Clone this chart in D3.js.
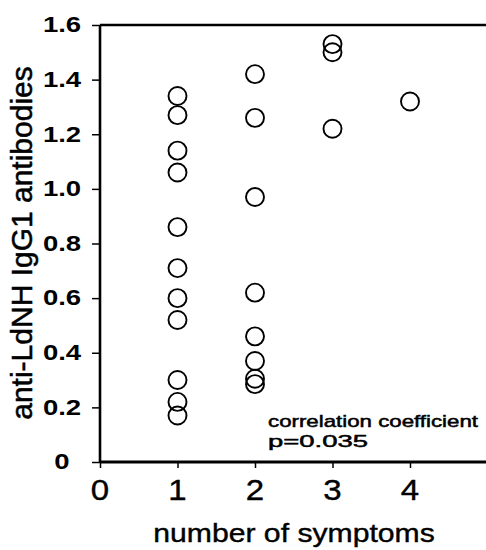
<!DOCTYPE html>
<html>
<head>
<meta charset="utf-8">
<script src="https://cdn.jsdelivr.net/npm/d3@7/dist/d3.min.js"></script>
<style>
  body { margin: 0; background: #fff; }
  text { font-family: "Liberation Sans", Arial, sans-serif; fill: #000; }
</style>
</head>
<body>
<div class="graphic"></div>
<script>
// values
var symptoms = [1, 1, 1, 1, 1, 1, 1, 1, 1, 1, 1,
  2, 2, 2, 2, 2, 2, 2, 2,
  3, 3, 3,
  4];
var igg1 = [1.34, 1.27, 1.14, 1.06, 0.86, 0.71, 0.60, 0.52, 0.30, 0.22, 0.17,
  1.42, 1.26, 0.97, 0.62, 0.46, 0.37, 0.305, 0.285,
  1.53, 1.50, 1.22,
  1.32];

var xTicks = [0, 1, 2, 3, 4];
var yTicks = [0, 0.2, 0.4, 0.6, 0.8, 1.0, 1.2, 1.4, 1.6];
var yTickLabels = ["0", "0.2", "0.4", "0.6", "0.8", "1.0", "1.2", "1.4", "1.6"];

var width = 486, height = 550;

var svg = d3.select(".graphic").append("svg")
  .attr("width", width)
  .attr("height", height);

var x = d3.scaleLinear().domain([0, 5]).range([100, 487.5]);
var y = d3.scaleLinear().domain([0, 1.6]).range([462, 25]);

// frame lines
svg.append("line")
  .attr("x1", x(0)).attr("x2", width)
  .attr("y1", y(1.6)).attr("y2", y(1.6))
  .attr("stroke", "#000").attr("stroke-width", 2.5);

// y axis
var yAxis = svg.append("g")
  .attr("transform", "translate(" + x(0) + ",0)")
  .call(d3.axisLeft(y).tickValues(yTicks).tickSize(8).tickFormat(""));
yAxis.select(".domain").attr("stroke-width", 2.6).attr("d", "M0," + y(1.6) + "V" + y(0));
yAxis.selectAll(".tick line").attr("stroke-width", 1.5);

yTicks.forEach(function(v, i) {
  svg.append("text")
    .attr("transform", "translate(62," + y(v) + ") scale(1.25,1)")
    .attr("text-anchor", "middle")
    .attr("dy", "0.33em")
    .style("font-size", "22px")
    .style("font-weight", "bold")
    .text(yTickLabels[i]);
});

// x axis
var xAxis = svg.append("g")
  .attr("transform", "translate(0," + y(0) + ")")
  .call(d3.axisBottom(x).tickValues(xTicks).tickSize(6).tickFormat(""));
xAxis.select(".domain").attr("stroke-width", 3).attr("d", "M" + x(0) + ",0H" + width);
xAxis.selectAll(".tick line").attr("stroke-width", 1.5);

xTicks.forEach(function(v) {
  svg.append("text")
    .attr("transform", "translate(" + x(v) + ",500) scale(1.1,1)")
    .attr("text-anchor", "middle")
    .style("font-size", "30px")
    .attr("stroke", "#000").attr("stroke-width", 0.4)
    .text(v);
});

// axis titles
svg.append("text")
  .attr("transform", "translate(294,542) scale(1.16,1)")
  .attr("text-anchor", "middle")
  .style("font-size", "26px")
  .attr("stroke", "#000").attr("stroke-width", 0.4)
  .text("number of symptoms");

svg.append("text")
  .attr("transform", "translate(32,243) rotate(-90)")
  .attr("text-anchor", "middle")
  .style("font-size", "30px")
  .attr("stroke", "#000").attr("stroke-width", 0.5)
  .text("anti-LdNH IgG1 antibodies");

// points
svg.append("g")
  .selectAll("circle")
  .data(igg1)
  .enter()
  .append("circle")
  .attr("cx", function(d, i) { return x(symptoms[i]); })
  .attr("cy", function(d) { return y(d); })
  .attr("r", 9)
  .attr("fill", "none")
  .attr("stroke", "#000")
  .attr("stroke-width", 1.9);

// annotation
svg.append("text")
  .attr("x", 268).attr("y", 427)
  .attr("textLength", 210).attr("lengthAdjust", "spacingAndGlyphs")
  .style("font-size", "17px")
  .attr("stroke", "#000").attr("stroke-width", 0.5)
  .text("correlation coefficient");
svg.append("text")
  .attr("x", 268).attr("y", 446.5)
  .attr("textLength", 100).attr("lengthAdjust", "spacingAndGlyphs")
  .style("font-size", "17px")
  .attr("stroke", "#000").attr("stroke-width", 0.5)
  .text("p=0.035");
</script>
</body>
</html>
